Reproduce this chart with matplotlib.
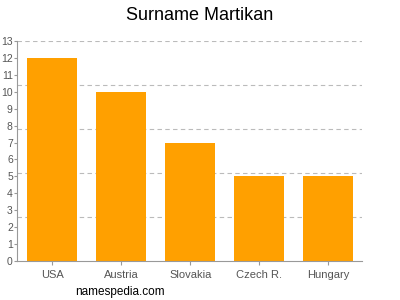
import numpy as np
import matplotlib.pyplot as plt

plt.rcParams['font.family'] = ['Liberation Sans', 'DejaVu Sans']

countries = ["USA", "Austria", "Slovakia", "Czech R.", "Hungary"]
counts = [12, 10, 7, 5, 5]
grid_levels = [2.6, 5.2, 7.8, 10.4, 13]

fig = plt.figure(figsize=(4, 3), dpi=100)
ax = fig.add_axes([0.0425, 0.13, 0.8625, 0.7333])

x = np.arange(len(countries))
ax.bar(x, counts, width=0.725, color="#ffa000", zorder=2)

for g in grid_levels:
    ax.axhline(g, color="#bbbbbb", linestyle=(0, (4, 3)), linewidth=0.8, zorder=1)

ax.set_xlim(-0.51, 4.49)
ax.set_ylim(0, 13)
ax.set_yticks(range(0, 14))
ax.set_xticks(x)
ax.set_xticklabels(countries)

for s in ["top", "right"]:
    ax.spines[s].set_visible(False)
for s in ["left", "bottom"]:
    ax.spines[s].set_color("#999999")
    ax.spines[s].set_linewidth(0.8)

ax.tick_params(axis="both", colors="#999999", labelcolor="#555555", labelsize=7.5, length=3, width=0.8)
ax.tick_params(axis="x", labelsize=8)
ax.tick_params(axis="y", pad=0.5, length=2.5)

fig.text(0.5, 0.95, "Surname Martikan", ha="center", va="center", fontsize=13)
fig.text(0.1875, 0.027, "namespedia.com", ha="left", va="center", fontsize=8.5)

fig.savefig("out.png", dpi=100)
